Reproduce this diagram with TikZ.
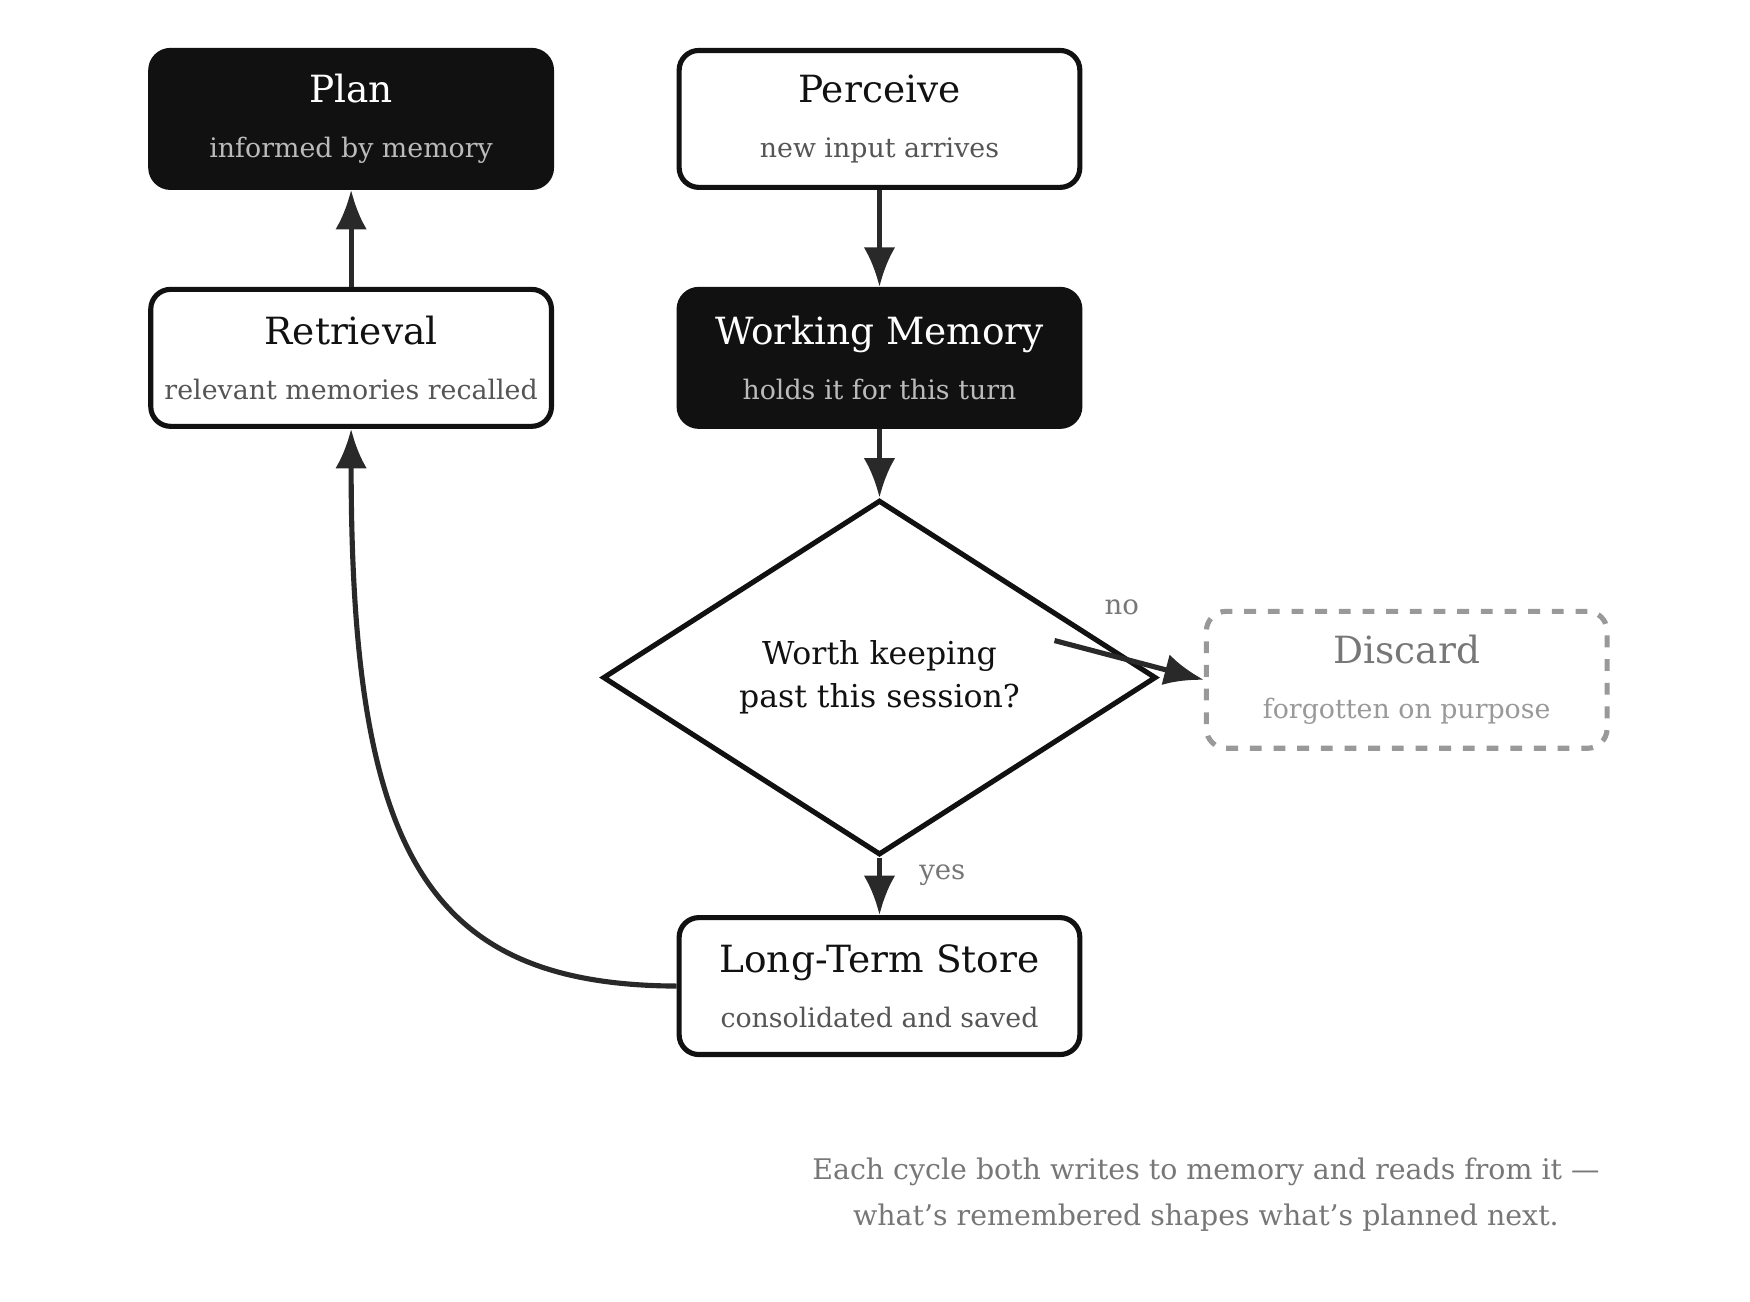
\documentclass[tikz,border=0pt]{standalone}
\usepackage{fontspec}
\setmainfont{DejaVu Serif}
\usetikzlibrary{arrows.meta,positioning,shapes.geometric}
\definecolor{ink}{HTML}{111111}
\definecolor{subdark}{HTML}{BBBBBB}
\definecolor{sublight}{HTML}{555555}
\definecolor{ghost}{HTML}{999999}
\definecolor{note}{HTML}{777777}
\tikzset{stepbox/.style={rounded corners=5, draw=ink, line width=1.3pt, fill=white, minimum width=3.57cm, minimum height=1.22cm, align=center, text=ink, font=\fontsize{9.5}{13}\selectfont}}
\tikzset{darkbox/.style={stepbox, fill=ink, text=white}}
\tikzset{arr/.style={draw=ink!90, line width=1.3pt, -{Latex[length=10pt,width=8pt]}}}
\newcommand{\sub}[2]{\\[1pt]{\fontsize{6.8}{9}\selectfont\color{#1}#2}}

\begin{document}
\begin{tikzpicture}[x=0.01cm,y=-0.01cm]
	\useasboundingbox (0,0) rectangle (1560,1160);
	\node[darkbox] (plan) at (313,106){Plan\sub{subdark}{informed by memory}};
	\node[stepbox] (perceive) at (784,106){Perceive\sub{sublight}{new input arrives}};
	\node[stepbox] (retrieval) at (313,319){Retrieval\sub{sublight}{relevant memories recalled}};
	\node[darkbox] (working) at (784,319){Working Memory\sub{subdark}{holds it for this turn}};
	\node[diamond, draw=ink, line width=1.3pt, minimum width=4.93cm, minimum height=2.89cm, inner sep=0, align=center, text=ink, font=\fontsize{8}{11}\selectfont] (keep) at (784,604){Worth keeping\\past this session?};
	\node[stepbox, draw=ghost, dashed, text=note] (discard) at (1254,606){Discard\sub{ghost}{forgotten on purpose}};
	\node[stepbox] (store) at (784,879){Long-Term Store\sub{sublight}{consolidated and saved}};
	\coordinate (noStart) at (940,571);
	
	\draw[arr] (perceive) -- (working);
	\draw[arr] (working) -- (keep.north);
	\draw[arr] (keep.south) -- (store);
	\draw[arr] (noStart) -- (discard.west);
	\draw[arr] (retrieval) -- (plan);
	\draw[arr] (store.west) .. controls (380,878) and (313,760) .. (retrieval.south);
	
	\node[text=note, font=\fontsize{7}{9}\selectfont] (no) at (1000,541){no};
	\node[text=note, font=\fontsize{7}{9}\selectfont] (yes) at (840,780){yes};
	\node[text=note, align=center, font=\fontsize{7.2}{11.5}\selectfont] (caption) at (1075,1065){Each cycle both writes to memory and reads from it —\\what's remembered shapes what's planned next.};
\end{tikzpicture}
\end{document}
